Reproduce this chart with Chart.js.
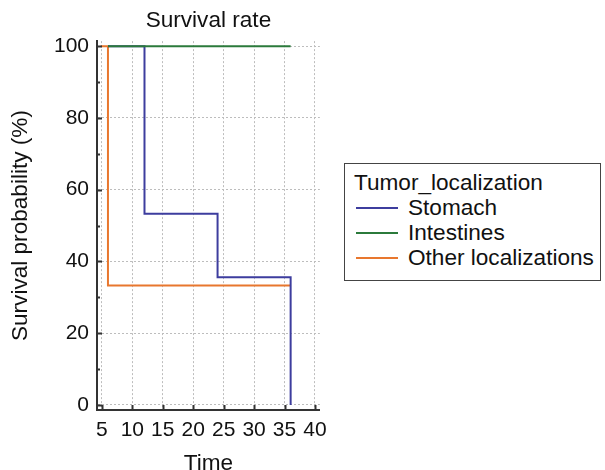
<!DOCTYPE html>
<html>
<head>
<meta charset="utf-8">
<script src="https://cdn.jsdelivr.net/npm/chart.js@4"></script>
<style>
  body { margin: 0; background: #fff; font-family: 'Liberation Sans', Arial, sans-serif; }
  #wrap { position: absolute; left: 0; top: 0; width: 335px; height: 470px; }
  #legend {
    position: absolute; left: 344px; top: 163px; width: 257px; height: 118px;
    border: 1px solid #444; box-sizing: border-box; font-size: 22.6px; color: #111;
    padding: 6px 0 0 9px; line-height: 25px;
  }
  #legend .row { display: flex; align-items: center; }
  #legend .sw { width: 42px; height: 2px; margin: 0 10px 0 2px; }
</style>
</head>
<body>
<div id="wrap"><canvas id="km"></canvas></div>
<div id="legend"></div>
<script>
// Kaplan-Meier curves (time, survival %)
const stomachTime = [6, 12, 24, 36];
const stomachSurv = [100, 53.3, 35.6, 0];
const intestTime = [6, 36];
const intestSurv = [100, 100];
const otherTime = [4.8, 6, 36];
const otherSurv = [100, 33.3, 33.3];

const xTicks = [5, 10, 15, 20, 25, 30, 35, 40];
const yTicks = [0, 20, 40, 60, 80, 100];
const yMinor = [10, 30, 50, 70, 90];

const seriesNames = ['Stomach', 'Intestines', 'Other localizations'];
const seriesColors = ['#3d3d9e', '#2b7a3b', '#e8772e'];

const pts = (t, s) => t.map((v, i) => ({ x: v, y: s[i] }));

const FONT = "'Liberation Sans', Arial, sans-serif";
Chart.defaults.font.family = FONT;
Chart.defaults.color = '#111';

// small inward tick marks on both axes
const innerTicks = {
    id: 'innerTicks',
    afterDraw(chart) {
        const { ctx, chartArea: a, scales: { x, y } } = chart;
        ctx.save();
        ctx.strokeStyle = '#333';
        ctx.lineWidth = 2;
        ctx.beginPath();
        xTicks.forEach(v => {
            const px = Math.round(x.getPixelForValue(v)) + 0.5;
            ctx.moveTo(px, a.bottom); ctx.lineTo(px, a.bottom - 5);
        });
        yTicks.forEach(v => {
            const py = Math.round(y.getPixelForValue(v)) + 0.5;
            ctx.moveTo(a.left, py); ctx.lineTo(a.left + 5, py);
        });
        yMinor.forEach(v => {
            const py = Math.round(y.getPixelForValue(v)) + 0.5;
            ctx.moveTo(a.left, py); ctx.lineTo(a.left + 3, py);
        });
        ctx.stroke();
        ctx.restore();
    }
};

new Chart(document.getElementById('km'), {
    type: 'line',
    data: {
        datasets: [
            { label: seriesNames[1], data: pts(intestTime, intestSurv), borderColor: seriesColors[1], order: 0 },
            { label: seriesNames[0], data: pts(stomachTime, stomachSurv), borderColor: seriesColors[0], order: 1 },
            { label: seriesNames[2], data: pts(otherTime, otherSurv), borderColor: seriesColors[2], order: 2 }
        ].map(d => Object.assign(d, { stepped: true, borderWidth: 2, pointRadius: 0, fill: false, borderCapStyle: 'butt' }))
    },
    options: {
        responsive: true,
        maintainAspectRatio: false,
        animation: false,
        layout: { padding: { left: 0, right: 12, top: 0, bottom: 0 } },
        plugins: {
            legend: { display: false },
            tooltip: { enabled: false },
            title: {
                display: true,
                text: 'Survival rate',
                fullSize: false,
                color: '#111',
                font: { size: 22.6, weight: 'normal' },
                padding: { top: 7, bottom: 7 }
            }
        },
        scales: {
            x: {
                type: 'linear',
                min: 4.2,
                max: 40.8,
                afterBuildTicks: s => { s.ticks = xTicks.map(v => ({ value: v })); },
                afterFit: s => { s.height = 60; },
                grid: { color: '#bdbdbd', drawTicks: false },
                border: { color: '#333', width: 2, dash: [2, 2] },
                ticks: { padding: 8, font: { size: 21 }, color: '#111', maxRotation: 0 },
                title: { display: true, text: 'Time', font: { size: 22.6 }, color: '#111', padding: { top: 0, bottom: -7 } }
            },
            y: {
                type: 'linear',
                min: -1.4,
                max: 101.4,
                afterBuildTicks: s => { s.ticks = yTicks.map(v => ({ value: v })); },
                afterFit: s => { s.width = 97; },
                grid: { color: '#bdbdbd', drawTicks: false },
                border: { color: '#333', width: 2, dash: [2, 2] },
                ticks: { padding: 8, font: { size: 21 }, color: '#111' },
                title: { display: true, text: 'Survival probability (%)', font: { size: 22.6 }, color: '#111', padding: { top: 7, bottom: 0 } }
            }
        }
    },
    plugins: [innerTicks]
});

// legend box
const leg = document.getElementById('legend');
leg.innerHTML = '<div>Tumor_localization</div>' + seriesNames.map((n, i) =>
    `<div class="row"><span class="sw" style="background:${seriesColors[i]}"></span><span>${n}</span></div>`).join('');
</script>
</body>
</html>
